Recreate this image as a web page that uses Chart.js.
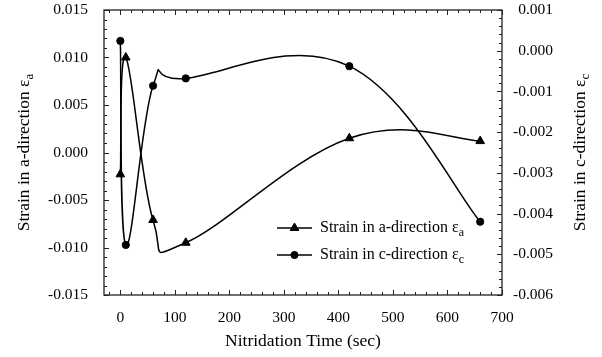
<!DOCTYPE html>
<html>
<head>
<meta charset="utf-8">
<script src="https://cdn.jsdelivr.net/npm/chart.js@4/dist/chart.umd.min.js"></script>
<style>
  body { margin: 0; background: #fff; }
  canvas { display: block; }
</style>
</head>
<body>
<canvas id="grafico" width="602" height="357"></canvas>
<script>
// Datos
const tiempos = [0, 10, 60, 120, 420, 660];
const strainA = [-0.0023, 0.0100, -0.0071, -0.0095, 0.0015, 0.0012];
const strainC = [0.00024, -0.00477, -0.00086, -0.00068, -0.00038, -0.0042];

const xTicks = [0, 100, 200, 300, 400, 500, 600, 700];
const leftTicks = [-0.015, -0.010, -0.005, 0.000, 0.005, 0.010, 0.015];
const rightTicks = [-0.006, -0.005, -0.004, -0.003, -0.002, -0.001, 0.000, 0.001];

const FONT = '"Liberation Serif", "Times New Roman", serif';

function fmt(v) {
  if (Math.abs(v) < 1e-9) return '0.000';
  return v.toFixed(3);
}

// texto con subindice (epsilon_a, epsilon_c)
function textSub(ctx, main, sub, x, y, size, align) {
  ctx.font = size + 'px ' + FONT;
  const w1 = ctx.measureText(main).width;
  ctx.font = Math.round(size * 0.72) + 'px ' + FONT;
  const w2 = ctx.measureText(sub).width;
  let x0 = x;
  if (align === 'center') x0 = x - (w1 + w2) / 2;
  ctx.textAlign = 'left';
  ctx.textBaseline = 'middle';
  ctx.font = size + 'px ' + FONT;
  ctx.fillText(main, x0, y);
  ctx.font = Math.round(size * 0.72) + 'px ' + FONT;
  ctx.fillText(sub, x0 + w1, y + size * 0.3);
}

// suavizado tipo Excel (Catmull-Rom) sobre los puntos que ya coloco Chart.js
const K = 0.2;
const suavizado = {
  id: 'suavizado',
  beforeDatasetsDraw(chart) {
    chart.data.datasets.forEach((ds, di) => {
      const meta = chart.getDatasetMeta(di);
      const line = meta.dataset;
      line.updateControlPoints(chart.chartArea, 'x');
      const pts = meta.data;
      for (let i = 0; i < pts.length; i++) {
        const p = pts[i];
        const prev = pts[i - 1] || p;
        const next = pts[i + 1] || p;
        const tx = (next.x - prev.x) * K;
        const ty = (next.y - prev.y) * K;
        p.cp1x = p.x - tx; p.cp1y = p.y - ty;
        p.cp2x = p.x + tx; p.cp2y = p.y + ty;
      }
      line._path = undefined;
    });
  }
};

const marco = {
  id: 'marco',
  afterDraw(chart) {
    const ctx = chart.ctx;
    const a = chart.chartArea;
    const sx = chart.scales.x, sy = chart.scales.y, sy1 = chart.scales.y1;
    ctx.save();
    ctx.strokeStyle = '#222';
    ctx.lineWidth = 1.3;
    ctx.strokeRect(a.left, a.top, a.right - a.left, a.bottom - a.top);

    ctx.lineWidth = 1;
    ctx.beginPath();
    // x: menores cada 20, mayores cada 100
    for (let v = -20; v <= 700; v += 20) {
      const p = Math.round(sx.getPixelForValue(v)) + 0.5;
      const len = (v % 100 === 0) ? 5 : 3;
      ctx.moveTo(p, a.bottom); ctx.lineTo(p, a.bottom - len);
      ctx.moveTo(p, a.top); ctx.lineTo(p, a.top + len);
    }
    // izquierda: cada 0.001
    for (let i = -15; i <= 15; i++) {
      const p = Math.round(sy.getPixelForValue(i / 1000)) + 0.5;
      const len = (i % 5 === 0) ? 5 : 3;
      ctx.moveTo(a.left, p); ctx.lineTo(a.left + len, p);
    }
    // derecha: cada 0.0002
    for (let i = -30; i <= 5; i++) {
      const p = Math.round(sy1.getPixelForValue(i / 5000)) + 0.5;
      const len = (i % 5 === 0) ? 5 : 3;
      ctx.moveTo(a.right, p); ctx.lineTo(a.right - len, p);
    }
    ctx.stroke();

    ctx.fillStyle = '#000';
    // etiquetas de los ejes y, alineadas a la derecha
    ctx.font = '15.5px ' + FONT;
    ctx.textAlign = 'right';
    ctx.textBaseline = 'middle';
    leftTicks.forEach(v => {
      ctx.fillText(fmt(v), 88, sy.getPixelForValue(v));
    });
    rightTicks.forEach(v => {
      ctx.fillText(fmt(v), 553, sy1.getPixelForValue(v));
    });

    // titulos de ejes
    ctx.font = '17.5px ' + FONT;
    ctx.textAlign = 'center';
    ctx.fillText('Nitridation Time (sec)', (a.left + a.right) / 2, 341);

    const cy = (a.top + a.bottom) / 2;
    ctx.save();
    ctx.translate(24, cy);
    ctx.rotate(-Math.PI / 2);
    textSub(ctx, 'Strain in a-direction \u03b5', 'a', 0, 0, 17.5, 'center');
    ctx.restore();

    ctx.save();
    ctx.translate(580, cy);
    ctx.rotate(-Math.PI / 2);
    textSub(ctx, 'Strain in c-direction \u03b5', 'c', 0, 0, 17.5, 'center');
    ctx.restore();

    // leyenda
    const filas = [
      { ds: chart.data.datasets[0], y: 228, main: 'Strain in a-direction \u03b5', sub: 'a' },
      { ds: chart.data.datasets[1], y: 255, main: 'Strain in c-direction \u03b5', sub: 'c' }
    ];
    filas.forEach(f => {
      ctx.strokeStyle = '#000';
      ctx.fillStyle = '#000';
      ctx.lineWidth = 1.5;
      ctx.beginPath();
      ctx.moveTo(277, f.y); ctx.lineTo(312, f.y);
      ctx.stroke();
      ctx.lineWidth = 1;
      Chart.helpers.drawPoint(ctx, {
        pointStyle: f.ds.pointStyle, radius: f.ds.pointRadius, rotation: 0, borderWidth: 1
      }, 294.5, f.y);
      textSub(ctx, f.main, f.sub, 320, f.y, 16, 'left');
    });
    ctx.restore();
  }
};

const data = {
  datasets: [
    {
      label: 'Strain in a-direction',
      data: tiempos.map((t, i) => ({ x: t, y: strainA[i] })),
      yAxisID: 'y',
      borderColor: '#000',
      backgroundColor: '#000',
      borderWidth: 1.5,
      pointStyle: 'triangle',
      pointRadius: 5,
      pointBorderWidth: 1,
      tension: 0.4
    },
    {
      label: 'Strain in c-direction',
      data: tiempos.map((t, i) => ({ x: t, y: strainC[i] })),
      yAxisID: 'y1',
      borderColor: '#000',
      backgroundColor: '#000',
      borderWidth: 1.5,
      pointStyle: 'circle',
      pointRadius: 3.6,
      pointBorderWidth: 1,
      tension: 0.4
    }
  ]
};

const tickFont = { family: FONT, size: 15.5 };

const config = {
  type: 'line',
  data: data,
  options: {
    responsive: false,
    animation: false,
    devicePixelRatio: 1,
    layout: { padding: { top: 10 } },
    plugins: { legend: { display: false }, tooltip: { enabled: false } },
    scales: {
      x: {
        type: 'linear',
        min: -30,
        max: 700,
        afterBuildTicks: s => { s.ticks = xTicks.map(v => ({ value: v })); },
        afterFit: s => { s.height = 62; },
        grid: { display: false, drawTicks: false },
        border: { display: false },
        ticks: { font: tickFont, color: '#000', padding: 14, maxRotation: 0 }
      },
      y: {
        position: 'left',
        min: -0.015,
        max: 0.015,
        afterBuildTicks: s => { s.ticks = leftTicks.map(v => ({ value: v })); },
        afterFit: s => { s.width = 104; },
        grid: { display: false, drawTicks: false },
        border: { display: false },
        ticks: { display: false, padding: 0 }
      },
      y1: {
        position: 'right',
        min: -0.006,
        max: 0.001,
        afterBuildTicks: s => { s.ticks = rightTicks.map(v => ({ value: v })); },
        afterFit: s => { s.width = 100; },
        grid: { display: false, drawTicks: false },
        border: { display: false },
        ticks: { display: false, padding: 0 }
      }
    }
  },
  plugins: [suavizado, marco]
};

const myChart = new Chart(document.getElementById('grafico').getContext('2d'), config);
</script>
</body>
</html>
